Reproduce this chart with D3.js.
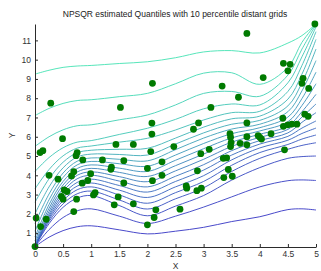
<!DOCTYPE html>
<html>
<head>
<meta charset="utf-8">
<script src="https://cdn.jsdelivr.net/npm/d3@7"></script>
<style>
  body { margin: 0; background: #fff; }
  svg { display: block; font-family: "Liberation Sans", Arial, sans-serif; }
  .axis path, .axis line { stroke: #2b2b2b; }
  .axis text { fill: #333; font-size: 8.5px; }
</style>
</head>
<body>
<div id="chart"></div>
<script>
// grid where the quantile curves are evaluated
var xGrid = [0, 0.25, 0.5, 0.75, 1, 1.5, 2, 2.5, 3, 3.5, 4, 4.5, 4.75, 5];

// estimated quantile curves, lowest to highest
var q01 = [0.3, 0.79, 1.13, 1.33, 1.38, 1.17, 0.96, 1.1, 1.3, 1.6, 1.85, 2.22, 2.26, 2.2];
var q02 = [0.3, 1.18, 1.81, 2.16, 2.26, 1.88, 1.5, 1.88, 2.35, 2.88, 3.4, 3.72, 3.76, 3.73];
var q03 = [0.3, 1.49, 2.34, 2.82, 2.95, 2.43, 1.9, 2.4, 2.95, 3.75, 4.4, 4.88, 4.97, 5.0];
var q04 = [0.3, 1.6, 2.52, 3.04, 3.18, 2.72, 2.25, 2.78, 3.35, 4.2, 4.88, 5.35, 5.55, 5.69];
var q05 = [0.3, 1.7, 2.69, 3.25, 3.4, 2.98, 2.55, 3.1, 3.68, 4.52, 5.18, 5.6, 5.88, 6.09];
var q06 = [0.3, 1.79, 2.84, 3.44, 3.6, 3.23, 2.85, 3.4, 3.98, 4.8, 5.42, 5.82, 6.17, 6.45];
var q07 = [0.3, 1.88, 3.0, 3.63, 3.8, 3.47, 3.13, 3.68, 4.27, 5.05, 5.62, 6.02, 6.45, 6.82];
var q08 = [0.35, 1.99, 3.16, 3.82, 4.0, 3.7, 3.4, 3.95, 4.55, 5.28, 5.8, 6.2, 6.75, 7.25];
var q09 = [0.45, 2.13, 3.32, 4.0, 4.18, 3.93, 3.67, 4.23, 4.83, 5.5, 5.97, 6.38, 7.02, 7.7];
var q10 = [0.6, 2.29, 3.5, 4.17, 4.36, 4.15, 3.94, 4.5, 5.1, 5.72, 6.13, 6.55, 7.3, 8.2];
var q11 = [0.8, 2.48, 3.68, 4.35, 4.54, 4.37, 4.2, 4.78, 5.38, 5.94, 6.3, 6.78, 7.62, 8.75];
var q12 = [1.1, 2.73, 3.89, 4.54, 4.72, 4.6, 4.47, 5.05, 5.65, 6.16, 6.47, 7.02, 7.98, 9.35];
var q13 = [1.5, 3.03, 4.12, 4.73, 4.9, 4.83, 4.75, 5.33, 5.93, 6.4, 6.65, 7.3, 8.38, 9.95];
var q14 = [2.0, 3.4, 4.39, 4.95, 5.1, 5.08, 5.05, 5.62, 6.2, 6.65, 6.85, 7.6, 8.8, 10.55];
var q15 = [2.6, 3.82, 4.68, 5.17, 5.3, 5.35, 5.4, 5.93, 6.5, 6.93, 7.07, 7.95, 9.25, 11.05];
var q16 = [3.3, 4.3, 5.01, 5.41, 5.52, 5.72, 5.92, 6.35, 6.87, 7.25, 7.32, 8.35, 9.7, 11.45];
var q17 = [4.2, 4.92, 5.43, 5.72, 5.8, 6.12, 6.44, 6.9, 7.45, 7.7, 7.65, 8.8, 10.15, 11.7];
var q18 = [5.5, 6.0, 6.36, 6.57, 6.62, 6.88, 7.13, 7.65, 8.25, 8.35, 8.1, 9.2, 10.55, 11.82];
var q19 = [7.1, 7.47, 7.73, 7.88, 7.92, 8.08, 8.25, 8.75, 9.3, 9.32, 8.72, 9.6, 10.9, 11.85];
var q20 = [9.25, 9.45, 9.6, 9.67, 9.7, 9.8, 9.89, 10.1, 10.4, 10.47, 10.35, 10.86, 11.25, 11.85];
var curves = [q01, q02, q03, q04, q05, q06, q07, q08, q09, q10,
              q11, q12, q13, q14, q15, q16, q17, q18, q19, q20];

// observed sample
var ptX = [0.0, 0.02, 0.1, 0.2, 0.09, 0.14, 0.28, 0.25, 0.41, 0.49, 0.47, 0.5, 0.52, 0.57, 0.65, 0.69,
           0.69, 0.74, 0.73, 0.75, 0.85, 0.84, 0.94, 0.99, 1.04, 1.07, 1.2, 1.36, 1.35, 1.41, 1.48, 1.44,
           1.52, 1.58, 1.58, 1.75, 1.75, 2.0, 2.12, 2.15, 2.09, 2.0, 2.06, 2.08, 2.08, 2.09, 2.26, 2.26,
           2.47, 2.58, 2.69, 2.7, 2.88, 2.96, 2.89, 2.95, 2.82, 2.91, 3.1, 3.13, 3.33, 3.35, 3.41, 3.44,
           3.36, 3.51, 3.47, 3.48, 3.49, 3.48, 3.65, 3.62, 3.77, 3.77, 3.77, 3.77, 3.97, 4.0, 4.03, 4.2,
           4.06, 4.42, 4.54, 4.5, 4.77, 4.75, 4.87, 4.41, 4.42, 4.5, 4.57, 4.66, 4.8, 4.86, 4.44, 4.98];
var ptY = [0.3, 1.78, 1.34, 1.72, 5.18, 5.28, 7.74, 4.0, 3.8, 5.9, 2.9, 2.76, 3.24, 3.16, 3.97, 4.19,
           2.12, 2.76, 5.02, 5.18, 4.8, 3.59, 3.73, 4.08, 2.98, 3.1, 4.8, 4.42, 4.31, 2.47, 2.88, 5.6,
           7.52, 3.6, 4.76, 5.6, 2.52, 1.43, 1.81, 2.21, 3.72, 4.36, 5.23, 6.14, 6.71, 8.77, 4.7, 4.0,
           5.49, 2.24, 3.45, 3.33, 3.2, 3.33, 4.23, 5.12, 6.39, 6.72, 5.35, 7.52, 8.63, 4.88, 4.9, 4.3,
           3.88, 3.95, 6.16, 5.98, 5.7, 5.49, 5.66, 8.05, 11.36, 6.72, 6.0, 5.58, 6.06, 5.97, 5.88, 6.16,
           9.07, 9.81, 9.76, 9.42, 9.03, 8.77, 8.51, 6.96, 6.54, 6.62, 6.66, 6.65, 7.17, 7.06, 5.32, 11.85];

var xTicks = [0, 0.5, 1, 1.5, 2, 2.5, 3, 3.5, 4, 4.5, 5];
var yTicks = [1, 2, 3, 4, 5, 6, 7, 8, 9, 10, 11];

var W = 321, H = 271;
var margin = {top: 24, right: 5, bottom: 24, left: 35};
var width = W - margin.left - margin.right,
    height = H - margin.top - margin.bottom;

var svg = d3.select("#chart").append("svg")
    .attr("width", W)
    .attr("height", H);

var g = svg.append("g")
    .attr("transform", "translate(" + margin.left + "," + margin.top + ")");

var x = d3.scaleLinear().domain([0, 5]).range([0, width]);
var y = d3.scaleLinear().domain([0.28, 11.85]).range([height, 0]);

var color = d3.interpolateRgb("#3434c4", "#44e2b2");

var line = d3.line()
    .x(function(d, i) { return x(xGrid[i]); })
    .y(function(d) { return y(d); })
    .curve(d3.curveCatmullRom.alpha(0.5));

g.selectAll(".qline")
    .data(curves)
    .enter()
    .append("path")
    .attr("class", "qline")
    .attr("fill", "none")
    .attr("stroke", function(d, i) { return color(i / (curves.length - 1)); })
    .attr("stroke-width", 0.9)
    .attr("d", line);

g.selectAll(".pt")
    .data(ptX)
    .enter()
    .append("circle")
    .attr("class", "pt")
    .attr("cx", function(d) { return x(d); })
    .attr("cy", function(d, i) { return y(ptY[i]); })
    .attr("r", 3.4)
    .attr("fill", "#007a00");

// axes, ticks pointing inward like matlab
g.append("g")
    .attr("class", "axis")
    .attr("transform", "translate(0," + height + ")")
    .call(d3.axisBottom(x).tickValues(xTicks).tickFormat(d3.format("~g"))
          .tickSizeInner(-3).tickSizeOuter(0).tickPadding(4));

g.append("g")
    .attr("class", "axis")
    .call(d3.axisLeft(y).tickValues(yTicks).tickFormat(d3.format("~g"))
          .tickSizeInner(-3).tickSizeOuter(0).tickPadding(4));

svg.append("text")
    .attr("x", 175)
    .attr("y", 17)
    .attr("text-anchor", "middle")
    .style("font-size", "8.5px")
    .attr("fill", "#222")
    .text("NPSQR estimated Quantiles with 10 percentile distant grids");

svg.append("text")
    .attr("x", margin.left + width / 2)
    .attr("y", 269)
    .attr("text-anchor", "middle")
    .style("font-size", "8.5px")
    .attr("fill", "#333")
    .text("X");

svg.append("text")
    .attr("transform", "translate(15," + (margin.top + height / 2) + ") rotate(-90)")
    .attr("text-anchor", "middle")
    .style("font-size", "8.5px")
    .attr("fill", "#333")
    .text("Y");
</script>
</body>
</html>
